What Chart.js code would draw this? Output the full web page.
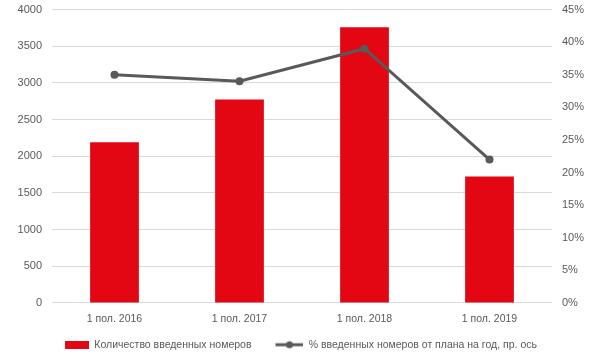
<!DOCTYPE html>
<html><head><meta charset="utf-8">
<script src="https://cdn.jsdelivr.net/npm/chart.js@4"></script>
<style>html,body{margin:0;padding:0;background:#fff;overflow:hidden}#w{width:600px;height:360px;overflow:hidden}#c{display:block;margin-top:-7px}</style>
</head><body><div id="w"><canvas id="c" width="600" height="367"></canvas></div>
<script>
const categories = ["1 пол. 2016", "1 пол. 2017", "1 пол. 2018", "1 пол. 2019"];
const roomsValues = [2190, 2775, 3760, 1725];
const percentValues = [35, 34, 39, 22];
const barLabel = "Количество введенных номеров";
const lineLabel = "% введенных номеров от плана на год, пр. ось";

const RED = "#e30613", GREY = "#595959", TXT = "#595959", GRID = "#d9d9d9";
const FONT = "'Liberation Sans', Arial, sans-serif";
const KEY_W = 48;

function boxImg() {
  const c = document.createElement('canvas'); c.width = KEY_W; c.height = 8;
  const x = c.getContext('2d'); x.fillStyle = RED; x.fillRect(KEY_W - 24, 0, 24, 8); return c;
}
function lineImg() {
  const c = document.createElement('canvas'); c.width = KEY_W; c.height = 10;
  const x = c.getContext('2d'); x.strokeStyle = GREY; x.lineWidth = 3;
  x.beginPath(); x.moveTo(KEY_W - 28, 5); x.lineTo(KEY_W, 5); x.stroke();
  x.fillStyle = GREY; x.beginPath(); x.arc(KEY_W - 14, 5, 3.5, 0, Math.PI * 2); x.fill(); return c;
}

const legendShift = {
  id: 'legendShift',
  afterLayout(chart) { if (chart.legend) { chart.legend.left -= 11; chart.legend.right -= 11; } }
};

new Chart(document.getElementById('c'), {
  plugins: [legendShift],
  data: {
    labels: categories,
    datasets: [
      { type: 'line', label: lineLabel, data: percentValues, yAxisID: 'y1',
        borderColor: GREY, backgroundColor: GREY, borderWidth: 3,
        pointRadius: 4, pointBorderWidth: 0, pointHoverRadius: 4, tension: 0, order: 0 },
      { type: 'bar', label: barLabel, data: roomsValues, yAxisID: 'y',
        backgroundColor: RED, categoryPercentage: 1, barPercentage: 0.39, order: 1 }
    ]
  },
  options: {
    responsive: false, animation: false,
    layout: { padding: { left: 0, right: 0, top: 0, bottom: 0 } },
    plugins: {
      tooltip: { enabled: false },
      legend: {
        position: 'bottom',
        labels: {
          usePointStyle: true, pointStyleWidth: KEY_W, boxHeight: 10, padding: 4,
          color: TXT, font: { family: FONT, size: 10.5 },
          generateLabels: (chart) => [
            { text: barLabel, pointStyle: boxImg(), fillStyle: RED, strokeStyle: RED, lineWidth: 0, datasetIndex: 1, fontColor: TXT },
            { text: lineLabel, pointStyle: lineImg(), fillStyle: GREY, strokeStyle: GREY, lineWidth: 0, datasetIndex: 0, fontColor: TXT }
          ]
        }
      }
    },
    scales: {
      x: {
        grid: { display: false, drawTicks: false }, border: { display: false },
        ticks: { color: TXT, font: { family: FONT, size: 10.5 }, padding: 10 }
      },
      y: {
        position: 'left', min: 0, max: 4000,
        ticks: { stepSize: 500, color: TXT, font: { family: FONT, size: 11 }, padding: 10, callback: v => String(v) },
        grid: { color: GRID, lineWidth: 1, drawTicks: false }, border: { display: false },
        afterFit: (s) => { s.width = 52; }
      },
      y1: {
        position: 'right', min: 0, max: 45,
        ticks: { stepSize: 5, color: TXT, font: { family: FONT, size: 11 }, padding: 10, callback: v => v + '%' },
        grid: { display: false, drawTicks: false }, border: { display: false },
        afterFit: (s) => { s.width = 48; }
      }
    }
  }
});
</script></body></html>
